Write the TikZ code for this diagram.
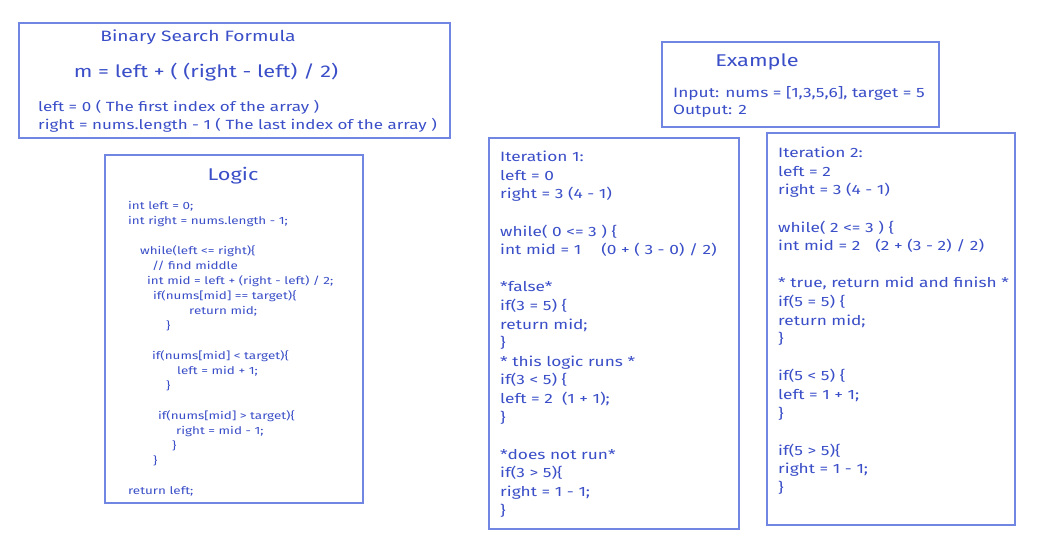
\documentclass[tikz,border=0pt]{standalone}
\usepackage{fontspec}
\setmainfont[FakeStretch=1.28]{Fira Sans}
\definecolor{inkc}{RGB}{58,78,200}
\definecolor{boxc}{RGB}{112,134,226}
\begin{document}
\begin{tikzpicture}[x=1pt,y=-1pt,
  box/.style={draw=boxc, line width=1.2pt},
  txt/.style={text=inkc, inner sep=0pt, align=left, anchor=north west},
  ttl/.style={text=inkc, inner sep=0pt, anchor=center},
  bigf/.style={font=\fontsize{17}{20}\selectfont},
  midf/.style={font=\fontsize{13.3}{18}\selectfont},
  itf/.style={font=\fontsize{13.5}{18.6}\selectfont},
  codef/.style={font=\fontsize{10.5}{15}\selectfont}]
\useasboundingbox (0,0) rectangle (1046,542);
\fill[white] (0,0) rectangle (1046,542);
% boxes
\draw[box] (19,23) rectangle (450,138);
\draw[box] (105,155) rectangle (363,503);
\draw[box] (662,42) rectangle (939,127);
\draw[box] (489,138) rectangle (739,529);
\draw[box] (767,133) rectangle (1015,525);
% formula box
\node[ttl, font=\fontsize{15}{18}\selectfont] (ftitle) at (198,37) {Binary Search Formula};
\node[ttl, bigf] (fform) at (206,72) {m = left + ( (right - left) / 2)};
\node[txt, midf] (fdesc) at (38,100) {left = 0 ( The first index of the array )\\right = nums.length - 1 ( The last index of the array )};
% logic box
\node[ttl, bigf] (ltitle) at (233,176) {Logic};
\node[txt, codef] (lcode) at (128,201) {int left = 0;\\
int right = nums.length - 1;\\
~\\
\hspace*{12pt}while(left <= right)\{\\
\hspace*{24pt}// find middle\\
\hspace*{19pt}int mid = left + (right - left) / 2;\\
\hspace*{25pt}if(nums[mid] == target)\{\\
\hspace*{61pt}return mid;\\
\hspace*{38pt}\}\\
~\\
\hspace*{24pt}if(nums[mid] < target)\{\\
\hspace*{49pt}left = mid + 1;\\
\hspace*{38pt}\}\\
~\\
\hspace*{30pt}if(nums[mid] > target)\{\\
\hspace*{48pt}right = mid - 1;\\
\hspace*{44pt}\}\\
\hspace*{25pt}\}\\
~\\
return left;};
% example box
\node[ttl, bigf] (etitle) at (757,62) {Example};
\node[txt, font=\fontsize{13.5}{17}\selectfont] (etext) at (673,86) {Input: nums = [1,3,5,6], target = 5\\Output: 2};
% iteration 1
\node[txt, itf] (it1) at (500,151) {Iteration 1:\\
left = 0\\
right = 3 (4 - 1)\\
~\\
while( 0 <= 3 ) \{\\
int mid = 1\hspace*{20pt}(0 + ( 3 - 0) / 2)\\
~\\
*false*\\
if(3 = 5) \{\\
return mid;\\
\}\\
* this logic runs *\\
if(3 < 5) \{\\
left = 2 \ (1 + 1);\\
\}\\
~\\
*does not run*\\
if(3 > 5)\{\\
right = 1 - 1;\\
\}};
% iteration 2
\node[txt, itf] (it2) at (778,147) {Iteration 2:\\
left = 2\\
right = 3 (4 - 1)\\
~\\
while( 2 <= 3 ) \{\\
int mid = 2\hspace*{15pt}(2 + (3 - 2) / 2)\\
~\\
* true, return mid and finish *\\
if(5 = 5) \{\\
return mid;\\
\}\\
~\\
if(5 < 5) \{\\
left = 1 + 1;\\
\}\\
~\\
if(5 > 5)\{\\
right = 1 - 1;\\
\}};
\end{tikzpicture}
\end{document}
